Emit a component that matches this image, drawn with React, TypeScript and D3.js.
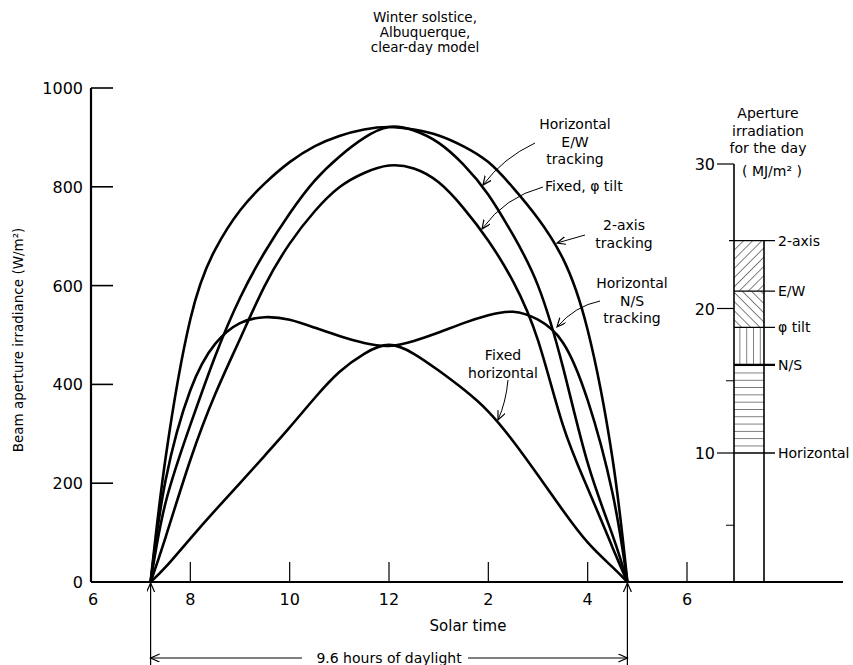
import * as d3 from "d3";

// hours of solar time (sunrise 7.2, sunset 16.8)
const hours = [7.2, 7.5, 8, 8.5, 9, 9.5, 10, 10.5, 11, 11.5, 12, 12.5, 13, 13.5, 14, 14.5, 15, 15.5, 16, 16.5, 16.8];

// beam aperture irradiance, W/m2
const twoAxis = [0, 250, 532, 673, 752, 807, 850, 882, 903, 916, 921, 916, 904, 882, 850, 798, 736, 655, 510, 250, 0];
const ewTracking = [0, 160, 318, 457, 575, 668, 746, 812, 861, 899, 921, 914, 889, 845, 784, 702, 600, 436, 241, 95, 0];
const fixedTilt = [0, 90, 247, 380, 492, 600, 685, 750, 799, 828, 843, 837, 809, 757, 691, 608, 489, 318, 190, 70, 0];
const nsTracking = [0, 205, 388, 482, 524, 536, 531, 515, 498, 484, 478, 488, 505, 524, 540, 547, 531, 485, 368, 180, 0];
const fixedHorizontal = [0, 30, 88, 145, 200, 256, 313, 372, 425, 462, 480, 462, 428, 390, 345, 285, 216, 145, 80, 30, 0];

// daily aperture irradiation, MJ/m2
const dailyLabels = ["2-axis", "E/W", "\u03c6 tilt", "N/S", "Horizontal"];
const dailyTotals = [24.7, 21.2, 18.7, 16.1, 10.0];

const xTickValues = [6, 8, 10, 12, 14, 16, 18];
const xTickLabels = ["6", "8", "10", "12", "2", "4", "6"];
const yTickValues = [200, 400, 600, 800, 1000];
const yTickLabels = ["0", "200", "400", "600", "800", "1000"];
const barTickValues = [10, 20, 30];
const barMinorTicks = [5, 15];
const daylight = [7.2, 16.8];

const W = 853;
const H = 665;
const FONT = "DejaVu Sans";

export default function App() {
  const x = d3.scaleLinear().domain([6, 18]).range([91, 687]);
  const y = d3.scaleLinear().domain([0, 1000]).range([582, 88]);
  const barY = d3.scaleLinear().domain([0, 30]).range([597.5, 164]);

  const line = d3
    .line<number>()
    .x((_, i) => x(hours[i]))
    .y((d) => y(d))
    .curve(d3.curveNatural);

  const series = [twoAxis, ewTracking, fixedTilt, nsTracking, fixedHorizontal];

  const barLeft = 734;
  const barRight = 764;
  const base = y(0);
  const patterns = ["hatchFwd", "hatchBack", "hatchVert", "hatchHoriz"];

  const x0 = x(daylight[0]);
  const x1 = x(daylight[1]);

  return (
    <svg
      width={W}
      height={H}
      style={{ position: "absolute", left: 0, top: 0, background: "#fff" }}
      fontFamily={FONT}
    >
      <defs>
        <marker id="arr" markerUnits="userSpaceOnUse" markerWidth="12" markerHeight="10" refX="9" refY="4" orient="auto">
          <path d="M0,0 L9,4 L0,8" fill="none" stroke="#000" strokeWidth="1.2" />
        </marker>
        <pattern id="hatchFwd" patternUnits="userSpaceOnUse" width="6.5" height="6.5" patternTransform="rotate(45)">
          <line x1="0" y1="0" x2="0" y2="6.5" stroke="#000" strokeWidth="1" />
        </pattern>
        <pattern id="hatchBack" patternUnits="userSpaceOnUse" width="6.5" height="6.5" patternTransform="rotate(-45)">
          <line x1="0" y1="0" x2="0" y2="6.5" stroke="#000" strokeWidth="1" />
        </pattern>
        <pattern id="hatchVert" patternUnits="userSpaceOnUse" x="5" y="0" width="6.8" height="10">
          <line x1="0" y1="0" x2="0" y2="10" stroke="#000" strokeWidth="1" />
        </pattern>
        <pattern id="hatchHoriz" patternUnits="userSpaceOnUse" x="0" y="0.2" width="10" height="7.3">
          <line x1="0" y1="0" x2="10" y2="0" stroke="#000" strokeWidth="1" />
        </pattern>
      </defs>

      {/* title */}
      <g fontSize="13.5" textAnchor="middle" fill="#000">
        <text x={425} y={22}>Winter solstice,</text>
        <text x={425} y={37}>Albuquerque,</text>
        <text x={425} y={52}>clear-day model</text>
      </g>

      {/* y axis */}
      <line x1={x(6)} x2={x(6)} y1={y(1000)} y2={base} stroke="#000" strokeWidth="2.2" />
      {yTickValues.map((v) => (
        <line key={v} x1={x(6)} x2={x(6) + 22} y1={y(v)} y2={y(v)} stroke="#000" strokeWidth="1.6" />
      ))}
      <g fontSize="16" textAnchor="end">
        {[0, ...yTickValues].map((v, i) => (
          <text key={v} x={83} y={y(v) + 6}>
            {yTickLabels[i]}
          </text>
        ))}
      </g>
      <text transform={`translate(23,340) rotate(-90)`} fontSize="13.5" textAnchor="middle">
        Beam aperture irradiance (W/m²)
      </text>

      {/* x axis */}
      <line x1={x(6)} x2={843} y1={base} y2={base} stroke="#000" strokeWidth="1.8" />
      {xTickValues.slice(1).map((v) => (
        <line key={v} x1={x(v)} x2={x(v)} y1={base} y2={base - 20} stroke="#000" strokeWidth="1.2" />
      ))}
      <g fontSize="16" textAnchor="middle">
        {xTickValues.map((v, i) => (
          <text key={v} x={x(v) + (i === 0 ? 2 : 0)} y={605}>
            {xTickLabels[i]}
          </text>
        ))}
      </g>
      <text x={468} y={631} fontSize="15" textAnchor="middle">
        Solar time
      </text>

      {/* daylight span */}
      {daylight.map((h) => (
        <path key={h} d={`M${x(h)},${H} L${x(h)},${base + 1}`} stroke="#000" strokeWidth="1.2" fill="none" markerEnd="url(#arr)" />
      ))}
      <path d={`M302,658 L${x0},658`} stroke="#000" strokeWidth="1" fill="none" markerEnd="url(#arr)" />
      <path d={`M468,658 L${x1},658`} stroke="#000" strokeWidth="1" fill="none" markerEnd="url(#arr)" />
      <text x={(x0 + x1) / 2} y={663} fontSize="14" textAnchor="middle">
        9.6 hours of daylight
      </text>

      {/* irradiance curves */}
      {series.map((s, i) => (
        <path key={i} d={line(s) || ""} fill="none" stroke="#000" strokeWidth="2.6" strokeLinejoin="round" />
      ))}

      {/* curve annotations */}
      <g fontSize="14" textAnchor="middle">
        <text x={575} y={129}>Horizontal</text>
        <text x={575} y={147}>E/W</text>
        <text x={575} y={164}>tracking</text>
        <text x={545} y={191} textAnchor="start">Fixed, φ tilt</text>
        <text x={624} y={230}>2-axis</text>
        <text x={624} y={248}>tracking</text>
        <text x={632} y={288}>Horizontal</text>
        <text x={632} y={306}>N/S</text>
        <text x={632} y={323}>tracking</text>
        <text x={503} y={360}>Fixed</text>
        <text x={503} y={378}>horizontal</text>
      </g>
      <g fill="none" stroke="#000" strokeWidth="1">
        <path d="M535,143 Q503,158 483,185" markerEnd="url(#arr)" />
        <path d="M543,187 Q505,197 482,229" markerEnd="url(#arr)" />
        <path d="M585,235 L557,243" markerEnd="url(#arr)" />
        <path d="M600,301 Q575,306 557,327" markerEnd="url(#arr)" />
        <path d="M508,380 Q506,402 498,420" markerEnd="url(#arr)" />
      </g>

      {/* daily irradiation bar */}
      <g fontSize="14" textAnchor="middle">
        <text x={768} y={118}>Aperture</text>
        <text x={768} y={136}>irradiation</text>
        <text x={768} y={153}>for the day</text>
        <text x={772} y={176}>( MJ/m² )</text>
      </g>
      {patterns.map((p, i) => (
        <rect
          key={p}
          x={barLeft}
          width={barRight - barLeft}
          y={barY(dailyTotals[i])}
          height={barY(dailyTotals[i + 1]) - barY(dailyTotals[i])}
          fill={`url(#${p})`}
        />
      ))}
      <line x1={barLeft} x2={barLeft} y1={barY(30)} y2={base} stroke="#000" strokeWidth="1.6" />
      <line x1={barRight} x2={barRight} y1={barY(dailyTotals[0])} y2={base} stroke="#000" strokeWidth="1.6" />
      {barTickValues.map((v) => (
        <line key={v} x1={717} x2={barLeft} y1={barY(v)} y2={barY(v)} stroke="#000" strokeWidth="1.2" />
      ))}
      {barMinorTicks.map((v) => (
        <line key={v} x1={726} x2={barLeft} y1={barY(v)} y2={barY(v)} stroke="#000" strokeWidth="1" />
      ))}
      <g fontSize="16" textAnchor="end">
        {barTickValues.map((v) => (
          <text key={v} x={715} y={barY(v) + 6}>
            {v}
          </text>
        ))}
      </g>
      {dailyTotals.map((v, i) => (
        <g key={dailyLabels[i]}>
          <line
            x1={i === 0 ? barLeft - 5 : barLeft}
            x2={barRight + 11}
            y1={barY(v)}
            y2={barY(v)}
            stroke="#000"
            strokeWidth={i === 3 ? 2.2 : 1.3}
          />
          <text x={778} y={barY(v) + 5} fontSize="14">
            {dailyLabels[i]}
          </text>
        </g>
      ))}
    </svg>
  );
}
